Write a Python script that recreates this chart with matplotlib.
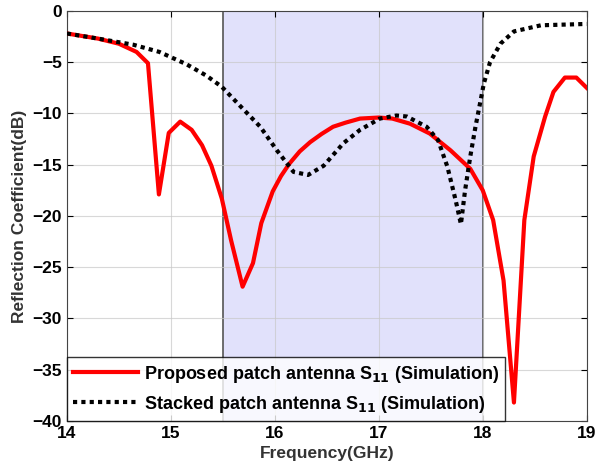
import numpy as np
import matplotlib
matplotlib.use('Agg')
import matplotlib.pyplot as plt

plt.rcParams['font.family'] = ['Liberation Sans', 'DejaVu Sans']
plt.rcParams['font.weight'] = 'bold'

# proposed patch antenna S11 (simulation)
f_prop = [14.0, 14.3, 14.5, 14.67, 14.78, 14.885, 14.98, 15.09, 15.2, 15.3, 15.39,
          15.49, 15.58, 15.69, 15.79, 15.87, 15.98, 16.06, 16.14, 16.24, 16.34,
          16.45, 16.56, 16.68, 16.82, 17.0, 17.13, 17.3, 17.49, 17.69, 17.88,
          18.0, 18.1, 18.2, 18.3, 18.4, 18.49, 18.6, 18.68, 18.79, 18.9, 19.0]
s11_prop = [-2.2, -2.7, -3.2, -4.0, -5.1, -17.9, -11.9, -10.8, -11.6, -13.1, -15.1,
            -18.3, -22.4, -26.9, -24.6, -20.7, -17.6, -16.1, -14.9, -13.7, -12.8,
            -12.0, -11.3, -10.9, -10.5, -10.4, -10.5, -11.0, -11.96, -13.6, -15.4,
            -17.5, -20.4, -26.3, -38.2, -20.4, -14.2, -10.3, -7.9, -6.5, -6.5, -7.5]

# stacked patch antenna S11 (simulation)
f_stack = [14.0, 14.3, 14.64, 14.89, 15.15, 15.34, 15.49, 15.66, 15.86, 16.02, 16.18,
           16.32, 16.47, 16.66, 16.82, 17.01, 17.17, 17.27, 17.46, 17.57, 17.66,
           17.74, 17.79, 17.83, 17.88, 17.93, 17.98, 18.01, 18.07, 18.17, 18.3,
           18.56, 19.0]
s11_stack = [-2.2, -2.7, -3.3, -4.0, -5.2, -6.3, -7.4, -9.2, -11.3, -13.6, -15.7,
             -16.0, -15.1, -12.9, -11.6, -10.5, -10.2, -10.3, -11.3, -12.6, -15.2,
             -18.5, -20.8, -17.5, -14.2, -11.3, -8.7, -7.1, -5.0, -3.2, -2.0,
             -1.4, -1.27]

band = [15.5, 18.0]

fig = plt.figure(figsize=[6.08, 4.75], dpi=100)
ax = fig.add_axes([0.110, 0.1137, 0.855, 0.8633])

ax.axvspan(band[0], band[1], facecolor='#e1e1fb', edgecolor='none', zorder=0)
ax.axvline(band[0], color='#555555', lw=1.2, zorder=1)
ax.axvline(band[1], color='#555555', lw=1.2, zorder=1)

ax.plot(f_prop, s11_prop, color='#ff0000', lw=3,
        label='Proposed patch antenna S$_{\\mathbf{11}}$ (Simulation)', zorder=3)
ax.plot(f_stack, s11_stack, color='black', lw=3, linestyle=(0, (1, 1)),
        label='Stacked patch antenna S$_{\\mathbf{11}}$ (Simulation)', zorder=3)

ax.set_xlim(14, 19)
ax.set_ylim(-40, 0)
ax.set_xticks([14, 15, 16, 17, 18, 19])
ax.set_yticks(np.arange(-40, 1, 5))
ax.grid(True, color='#c8c8c8', lw=0.8, alpha=0.7)
ax.tick_params(direction='in', top=True, right=True, labelsize=12.5, length=4)
for lab in ax.get_xticklabels() + ax.get_yticklabels():
    lab.set_fontweight('bold')
for s in ax.spines.values():
    s.set_color('#444444')

ax.set_xlabel('Frequency(GHz)', fontsize=12.5, fontweight='bold', color='#333333')
ax.set_ylabel('Reflection Coefficient(dB)', fontsize=12.5, fontweight='bold', color='#333333')

leg = ax.legend(loc='lower left', frameon=True, fancybox=False,
                edgecolor='black', borderaxespad=0, handlelength=3.6,
                handletextpad=0.3, borderpad=0.35, labelspacing=0.5,
                prop={'weight': 'bold', 'size': 13})
leg.get_frame().set_linewidth(1.0)
leg.set_zorder(5)

fig.savefig('out.png', dpi=100)
